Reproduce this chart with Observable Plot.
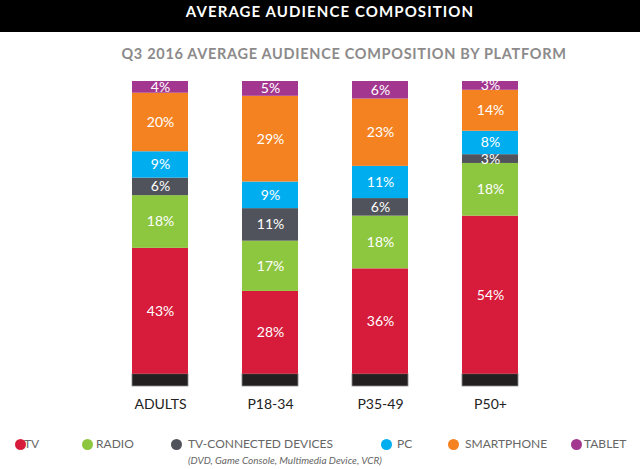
<!DOCTYPE html>
<html><head><meta charset="utf-8">
<script src="https://cdn.jsdelivr.net/npm/d3@7"></script>
<script src="https://cdn.jsdelivr.net/npm/@observablehq/plot@0.6"></script>
<style>
body{margin:0;background:#fff;width:640px;height:469px;position:relative;overflow:hidden;font-family:Lato,sans-serif}
#banner{position:absolute;left:0;top:0;width:640px;height:32px;background:#000}
#title{position:absolute;left:10px;top:0;width:640px;color:#fff;font-weight:700;font-size:15px;letter-spacing:1.1px;text-align:center;line-height:23px}
#sub{position:absolute;left:24px;top:44px;width:640px;color:#8c8a8a;font-weight:700;font-size:14.5px;letter-spacing:0.7px;text-align:center;line-height:20px}
#chart{position:absolute;left:0;top:66px}
.lg{position:absolute;top:437px;font-size:12px;color:#666;white-space:nowrap;line-height:14px}
.dot{position:absolute;width:11px;height:11px;border-radius:50%;top:439px}
#note{position:absolute;left:188px;top:454px;font-size:10px;font-style:italic;color:#666;white-space:nowrap}
</style></head>
<body>
<div id="banner"></div>
<div id="title">AVERAGE AUDIENCE COMPOSITION</div>
<div id="sub">Q3 2016 AVERAGE AUDIENCE COMPOSITION BY PLATFORM</div>
<div id="chart"></div>
<div id="legend"></div>
<div id="note">(DVD, Game Console, Multimedia Device, VCR)</div>
<script>
const groups = ["ADULTS", "P18-34", "P35-49", "P50+"];
const platforms = ["TV", "RADIO", "TV-CONNECTED DEVICES", "PC", "SMARTPHONE", "TABLET"];
const tv = [43, 28, 36, 54];
const radio = [18, 17, 18, 18];
const connected = [6, 11, 6, 3];
const pc = [9, 9, 11, 8];
const smartphone = [20, 29, 23, 14];
const tablet = [4, 5, 6, 3];
const colors = ["#d71c3b", "#8dc63f", "#50535b", "#00aeef", "#f58220", "#a3368f"];

const series = [tv, radio, connected, pc, smartphone, tablet];
const rows = [];
platforms.forEach((p, i) => groups.forEach((g, j) => rows.push({group: g, platform: p, value: series[i][j]})));

const stackOpts = {x: "group", y: "value", order: platforms, offset: "normalize"};
const chart = Plot.plot({
  width: 640,
  height: 354,
  marginTop: 15,
  marginBottom: 34,
  marginLeft: 78,
  marginRight: 67,
  style: {fontFamily: "Lato, sans-serif", fontSize: "14px", color: "#222", background: "transparent"},
  x: {domain: groups, padding: 0.49, label: null, tickSize: 0, tickPadding: 13},
  y: {axis: null, domain: [-0.042, 1]},
  color: {domain: platforms, range: colors},
  marks: [
    Plot.barY(groups, {x: d => d, y1: -0.042, y2: 0, fill: "#231f20", stroke: "#8a8a8a", strokeWidth: 0.8}),
    Plot.barY(rows, Plot.stackY({...stackOpts, fill: "platform"})),
    Plot.text(rows, Plot.stackY({...stackOpts, z: "platform", text: d => d.value + "%", fill: "white", fontSize: 14}))
  ]
});
document.getElementById("chart").appendChild(chart);

const legendX = [[15, 24], [82, 96], [171, 188], [381, 397], [448, 465], [571, 584]];
const lg = document.getElementById("legend");
platforms.forEach((p, i) => {
  const d = document.createElement("div");
  d.className = "dot"; d.style.left = legendX[i][0] + "px"; d.style.background = colors[i];
  lg.appendChild(d);
  const t = document.createElement("div");
  t.className = "lg"; t.style.left = legendX[i][1] + "px"; t.textContent = p;
  lg.appendChild(t);
});
</script>
</body></html>
